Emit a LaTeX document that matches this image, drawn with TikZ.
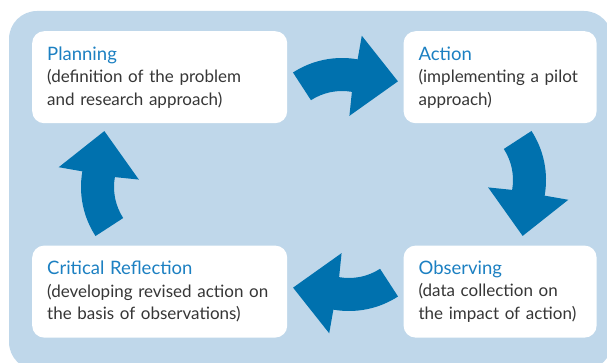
\documentclass[tikz,border=0pt]{standalone}
\usepackage{fontspec}
\setmainfont{Lato}
\usepackage{xcolor}
\usetikzlibrary{positioning}

\definecolor{bgblue}{HTML}{BFD7EA}
\definecolor{arrowblue}{HTML}{0071AE}
\definecolor{titleblue}{HTML}{1C80C2}
\definecolor{textgray}{HTML}{363636}

\begin{document}
\begin{tikzpicture}[
        x=1pt, y=1pt,
        node distance = 116pt,
        box/.style = {
            rectangle,
            rounded corners=12pt,
            fill=white,
            minimum height=92pt,
            inner xsep=15pt,
            inner ysep=0pt,
            align=left,
            text=textgray,
            font=\fontsize{17}{22.5}\selectfont
        },
        widebox/.style = {box, text width=225pt},
        narrowbox/.style = {box, text width=163pt},
        cycarrow/.pic = {
            \fill[arrowblue] (123:90) arc[start angle=123, end angle=80, radius=90]
                -- (80:114) -- (50:87) -- (77:33) -- (80:57)
                arc[start angle=80, end angle=123, radius=57] -- cycle;
        }
    ]

    \useasboundingbox (0,0) rectangle (607,362);
    \clip (0,0) rectangle (607,362);

    % Background panel
    \fill[bgblue, rounded corners=28pt] (9,-8) rectangle (612,351);

    % Nodes
    \node[widebox, anchor=north west] (plan) at (32,331)
        {{\color{titleblue}\fontsize{18.5}{22.5}\selectfont Planning}\\
         (definition of the problem\\and research approach)};
    \node[narrowbox, right=of plan] (act)
        {{\color{titleblue}\fontsize{18.5}{22.5}\selectfont Action}\\
         (implementing a pilot\\approach)};
    \node[widebox, below=122pt of plan] (crit)
        {{\color{titleblue}\fontsize{18.5}{22.5}\selectfont Critical Reflection}\\
         (developing revised action on\\the basis of observations)};
    \node[narrowbox, right=of crit] (obs)
        {{\color{titleblue}\fontsize{18.5}{22.5}\selectfont Observing}\\
         (data collection on\\the impact of action)};

    % Cycle arrows
    \pic at (342,214) {cycarrow};
    \pic[rotate=-90] at (456,182) {cycarrow};
    \pic[rotate=180] at (349,141) {cycarrow};
    \pic[rotate=90] at (171,175) {cycarrow};

\end{tikzpicture}
\end{document}
